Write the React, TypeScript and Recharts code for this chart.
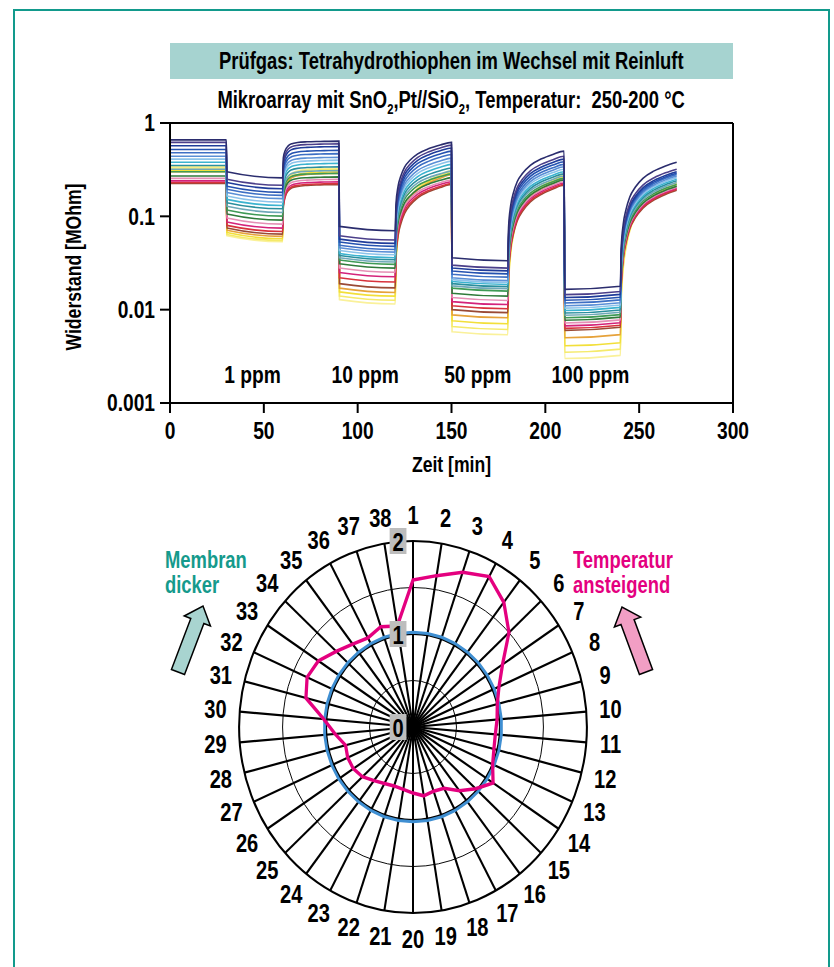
import React from "react";
import {
  LineChart,
  Line,
  XAxis,
  YAxis,
  ReferenceLine,
  ReferenceDot,
  RadarChart,
  Radar,
  PolarGrid,
  PolarAngleAxis,
  PolarRadiusAxis,
} from "recharts";

const FONT = "'Liberation Sans', Arial, sans-serif";
const SX = 0.8; // schmale Schrift nachbilden

// Widerstand je Sensor (oben -> unten), Werte in MOhm am Ende jeder Phase
const SENSOR_COLORS = [
  "#2b2d6e", "#4b3f8a", "#1f3c9a", "#2452b0", "#3d6fc4", "#5a8fd6", "#8cc3ea",
  "#3bb3d0", "#2a8f9e", "#6fa8b8", "#3f9a55", "#2f7a3a", "#e58fb5", "#d4237a",
  "#d8323c", "#9a4a35", "#e6a23a", "#f2df3a", "#f5ea6a", "#faf19a",
];
const AIR_START = [0.66, 0.62, 0.57, 0.52, 0.48, 0.44, 0.41, 0.38, 0.35, 0.32, 0.3, 0.27, 0.255, 0.24, 0.23, 0.225, 0.3, 0.31, 0.33, 0.34];
const GAS_1PPM = [0.3, 0.25, 0.23, 0.21, 0.195, 0.18, 0.165, 0.152, 0.14, 0.128, 0.117, 0.106, 0.096, 0.087, 0.08, 0.075, 0.071, 0.067, 0.064, 0.062];
const AIR_AFTER_1 = [0.64, 0.6, 0.56, 0.51, 0.47, 0.43, 0.4, 0.37, 0.34, 0.31, 0.29, 0.265, 0.25, 0.235, 0.225, 0.22, 0.29, 0.3, 0.32, 0.33];
const GAS_10PPM = [0.078, 0.062, 0.057, 0.053, 0.049, 0.046, 0.043, 0.04, 0.038, 0.036, 0.034, 0.031, 0.028, 0.025, 0.022, 0.019, 0.017, 0.0155, 0.014, 0.0128];
const AIR_AFTER_10 = [0.62, 0.58, 0.54, 0.5, 0.46, 0.42, 0.39, 0.36, 0.33, 0.305, 0.285, 0.26, 0.245, 0.235, 0.225, 0.22, 0.28, 0.29, 0.3, 0.31];
const GAS_50PPM = [0.036, 0.03, 0.028, 0.026, 0.024, 0.022, 0.021, 0.02, 0.019, 0.018, 0.017, 0.015, 0.0135, 0.0122, 0.011, 0.01, 0.0088, 0.0076, 0.0066, 0.0058];
const AIR_AFTER_50 = [0.5, 0.44, 0.41, 0.385, 0.36, 0.34, 0.32, 0.3, 0.285, 0.27, 0.255, 0.245, 0.235, 0.228, 0.22, 0.215, 0.25, 0.26, 0.27, 0.28];
const GAS_100PPM = [0.0165, 0.0145, 0.0135, 0.0126, 0.0118, 0.011, 0.0104, 0.0098, 0.0092, 0.0087, 0.0082, 0.0077, 0.0072, 0.0067, 0.0063, 0.006, 0.005, 0.0041, 0.0035, 0.003];
const AIR_AFTER_100 = [0.38, 0.32, 0.3, 0.29, 0.28, 0.27, 0.26, 0.25, 0.24, 0.23, 0.22, 0.21, 0.205, 0.2, 0.195, 0.19, 0.21, 0.22, 0.225, 0.23];

const GAS_STEPS = [GAS_1PPM, GAS_10PPM, GAS_50PPM, GAS_100PPM];
const AIR_STEPS = [AIR_AFTER_1, AIR_AFTER_10, AIR_AFTER_50, AIR_AFTER_100];
const GAS_ON = [30, 90, 150, 210];
const GAS_DRIFT = [0.86, 0.9, 0.93, 1.08];
// Erholung an Reinluft: Minuten nach Umschalten, Anteil (log) der Erholung
const REC_FAST_T = [0.4, 1.5, 3, 5, 8, 13, 20, 30];
const REC_FAST_F = [0.55, 0.76, 0.87, 0.93, 0.96, 0.98, 0.99, 1];
const REC_SLOW_T = [0.4, 1.5, 3, 5, 8, 12, 18, 24, 30];
const REC_SLOW_F = [0.3, 0.5, 0.62, 0.72, 0.8, 0.87, 0.93, 0.97, 1];

const PPM_LABELS = ["1 ppm", "10 ppm", "50 ppm", "100 ppm"];
const PPM_X = [44, 104, 164, 224];
const X_TICKS = [0, 50, 100, 150, 200, 250, 300];
const Y_TICKS = [0.001, 0.01, 0.1, 1];

// Polardiagramm
const SPOKES = Array.from({ length: 38 }, (_, i) => String(i + 1));
const TEMP_RESPONSE = [
  1.58, 1.65, 1.76, 1.84, 1.7, 1.5, 1.23, 1.08, 1.0, 0.97, 0.95, 0.96, 1.0, 1.1, 0.98, 0.87, 0.75, 0.73, 0.75,
  0.71, 0.68, 0.67, 0.69, 0.73, 0.79, 0.82, 0.82, 0.8, 0.9, 1.03, 1.27, 1.33, 1.3, 1.2, 1.13, 1.09, 1.14, 1.1,
];
const REFERENCE_RING = SPOKES.map(() => 1.02);

const buildRows = () => {
  const rows: any[] = [];
  const push = (t: number, vals: number[]) => {
    const row: any = { t };
    vals.forEach((v, i) => (row[`s${i}`] = v));
    rows.push(row);
  };
  push(0, AIR_START);
  push(30, AIR_START);
  GAS_STEPS.forEach((gas, k) => {
    const on = GAS_ON[k];
    const gasEnd = gas.map((g) => g * GAS_DRIFT[k]);
    push(on + 0.3, gas);
    push(on + 30, gasEnd);
    const ts = k === 0 ? REC_FAST_T : REC_SLOW_T;
    const fs = k === 0 ? REC_FAST_F : REC_SLOW_F;
    ts.forEach((dt, j) =>
      push(
        on + 30 + dt,
        gasEnd.map((g, i) => g * Math.pow(AIR_STEPS[k][i] / g, fs[j]))
      )
    );
  });
  return rows;
};
const lineRows = buildRows();
const radarRows = SPOKES.map((s, i) => ({ spoke: s, temp: TEMP_RESPONSE[i], ref: REFERENCE_RING[i] }));

const RCX = 413;
const RCY = 247;
const R_OUT = 186;

// schmaler, fetter SVG-Text
const CText = ({ x, y, sx = SX, size = 22, anchor = "middle", baseline = "central", fill = "#000", rotate = 0, children }: any) => (
  <text
    transform={`translate(${x} ${y}) rotate(${rotate}) scale(${sx} 1)`}
    x={0}
    y={0}
    textAnchor={anchor}
    dominantBaseline={baseline}
    fontFamily={FONT}
    fontWeight={700}
    fontSize={size}
    fill={fill}
  >
    {children}
  </text>
);

const YLabel = ({ viewBox }: any) => (
  <CText x={viewBox.x + 3} y={viewBox.y + viewBox.height / 2 + 4} rotate={-90} size={22}>
    Widerstand [MOhm]
  </CText>
);

const XTick = ({ x, y, payload }: any) => (
  <CText x={x} y={y + 16} size={24}>
    {payload.value}
  </CText>
);

const YTick = ({ x, y, payload }: any) => (
  <CText x={x - 3} y={y} size={24} anchor="end">
    {String(payload.value)}
  </CText>
);

const PpmLabel = ({ viewBox, text }: any) => (
  <CText x={viewBox.x + (viewBox.width || 0) / 2} y={viewBox.y + (viewBox.height || 0) / 2} size={24}>
    {text}
  </CText>
);

const XLabel = ({ viewBox }: any) => (
  <CText x={viewBox.x + viewBox.width / 2} y={464} size={22}>
    Zeit [min]
  </CText>
);

const AngleTick = ({ x, y, payload }: any) => {
  const dx = x - RCX;
  const dy = y - RCY;
  const d = Math.hypot(dx, dy) || 1;
  const R = 212;
  return (
    <CText x={RCX + (dx / d) * R} y={RCY + (dy / d) * R} sx={0.86} size={25}>
      {payload.value}
    </CText>
  );
};

const RadiusTick = ({ x, y, payload }: any) => (
  <g>
    <rect x={x - 25} y={y - 13} width={18} height={26} fill="#bdbdbd" />
    <CText x={x - 16} y={y + 1} sx={0.86} size={25}>
      {payload.value}
    </CText>
  </g>
);

const arrow = (tipX: number, tipY: number, tailX: number, tailY: number) => {
  const len = Math.hypot(tipX - tailX, tipY - tailY);
  const ux = (tipX - tailX) / len;
  const uy = (tipY - tailY) / len;
  const px = -uy;
  const py = ux;
  const hb = [tipX - ux * 16, tipY - uy * 16];
  const pts = [
    [tailX + px * 7, tailY + py * 7],
    [hb[0] + px * 7, hb[1] + py * 7],
    [hb[0] + px * 14, hb[1] + py * 14],
    [tipX, tipY],
    [hb[0] - px * 14, hb[1] - py * 14],
    [hb[0] - px * 7, hb[1] - py * 7],
    [tailX - px * 7, tailY - py * 7],
  ];
  return pts.map((p) => p.join(",")).join(" ");
};

const narrow = (origin: string): React.CSSProperties => ({
  display: "inline-block",
  whiteSpace: "nowrap",
  transform: `scaleX(${SX})`,
  transformOrigin: origin,
});

const App: React.FC = () => {
  return (
    <div style={{ position: "absolute", left: 0, top: 0, width: 834, height: 967, background: "#fff", fontFamily: FONT, overflow: "hidden" }}>
      <div style={{ position: "absolute", left: 13, top: 9, width: 813, height: 990, border: "2px solid #129a8c" }} />

      <div
        style={{
          position: "absolute", left: 170, top: 43, width: 563, height: 36, background: "#a6d3d0",
          display: "flex", alignItems: "center", justifyContent: "center",
          fontWeight: 700, fontSize: 23, color: "#000", overflow: "visible",
        }}
      >
        <span style={narrow("center")}>Prüfgas: Tetrahydrothiophen im Wechsel mit Reinluft</span>
      </div>
      <div style={{ position: "absolute", left: 60, top: 87, width: 783, textAlign: "center", fontWeight: 700, fontSize: 23, color: "#000", lineHeight: "26px" }}>
        <span style={narrow("center")}>
          Mikroarray mit SnO<sub style={{ fontSize: 14 }}>2</sub>,Pt//SiO<sub style={{ fontSize: 14 }}>2</sub>, Temperatur:&nbsp; 250-200 °C
        </span>
      </div>

      <div style={{ position: "absolute", left: 0, top: 0 }}>
        <LineChart width={834} height={480} data={lineRows} margin={{ top: 123, right: 101, left: 70, bottom: 17 }}>
          <XAxis
            dataKey="t"
            type="number"
            domain={[0, 300]}
            ticks={X_TICKS}
            stroke="#000"
            strokeWidth={2}
            tickSize={10}
            tick={<XTick />}
            height={60}
            label={<XLabel />}
          />
          <YAxis
            scale="log"
            domain={[0.001, 1]}
            ticks={Y_TICKS}
            allowDataOverflow
            stroke="#000"
            strokeWidth={2}
            tickSize={10}
            width={100}
            tick={<YTick />}
            label={<YLabel />}
          />
          <ReferenceLine y={1} stroke="#000" strokeWidth={2} />
          <ReferenceLine x={300} stroke="#000" strokeWidth={2} />
          {SENSOR_COLORS.map((c, i) => SENSOR_COLORS.length - 1 - i).map((i) => (
            <Line
              key={i}
              dataKey={`s${i}`}
              type="monotone"
              stroke={SENSOR_COLORS[i]}
              strokeWidth={1.6}
              dot={false}
              isAnimationActive={false}
            />
          ))}
          {PPM_LABELS.map((p, i) => (
            <ReferenceDot key={p} x={PPM_X[i]} y={0.002} r={0} label={<PpmLabel text={p} />} />
          ))}
        </LineChart>
      </div>

      <div style={{ position: "absolute", left: 0, top: 480, transform: "scaleX(0.935)", transformOrigin: `${RCX}px ${RCY}px` }}>
        <RadarChart width={834} height={487} cx={RCX} cy={RCY} outerRadius={R_OUT} data={radarRows} startAngle={90} endAngle={-270}>
          <PolarGrid gridType="circle" polarRadius={[R_OUT * 0.25, R_OUT * 0.75]} radialLines={false} stroke="#000" strokeWidth={1} />
          <PolarGrid gridType="circle" polarRadius={[R_OUT * 0.5, R_OUT]} stroke="#000" strokeWidth={2.2} />
          <PolarAngleAxis dataKey="spoke" tick={<AngleTick />} axisLine={false} tickLine={false} />
          <Radar dataKey="ref" stroke="#3f8fd2" strokeWidth={3} fill="none" fillOpacity={0} dot={false} isAnimationActive={false} />
          <Radar dataKey="temp" stroke="#e4007f" strokeWidth={3.5} fill="none" fillOpacity={0} dot={false} isAnimationActive={false} />
          <PolarRadiusAxis angle={90} domain={[0, 2]} tickCount={3} axisLine={false} tickLine={false} tick={<RadiusTick />} />
        </RadarChart>
      </div>

      <div style={{ position: "absolute", left: 165, top: 548, color: "#159a8c", fontWeight: 700, fontSize: 23, lineHeight: "25px" }}>
        <span style={narrow("left")}>Membran</span>
        <br />
        <span style={narrow("left")}>dicker</span>
      </div>
      <div style={{ position: "absolute", left: 573, top: 548, color: "#e4007f", fontWeight: 700, fontSize: 23, lineHeight: "25px" }}>
        <span style={narrow("left")}>Temperatur</span>
        <br />
        <span style={narrow("left")}>ansteigend</span>
      </div>
      <svg width={834} height={967} style={{ position: "absolute", left: 0, top: 0, pointerEvents: "none" }}>
        <polygon points={arrow(203, 606, 178, 672)} fill="#a8d4d0" stroke="#000" strokeWidth={1.5} />
        <polygon points={arrow(622, 607, 646, 672)} fill="#f29ec4" stroke="#000" strokeWidth={1.5} />
      </svg>
    </div>
  );
};

export default App;
